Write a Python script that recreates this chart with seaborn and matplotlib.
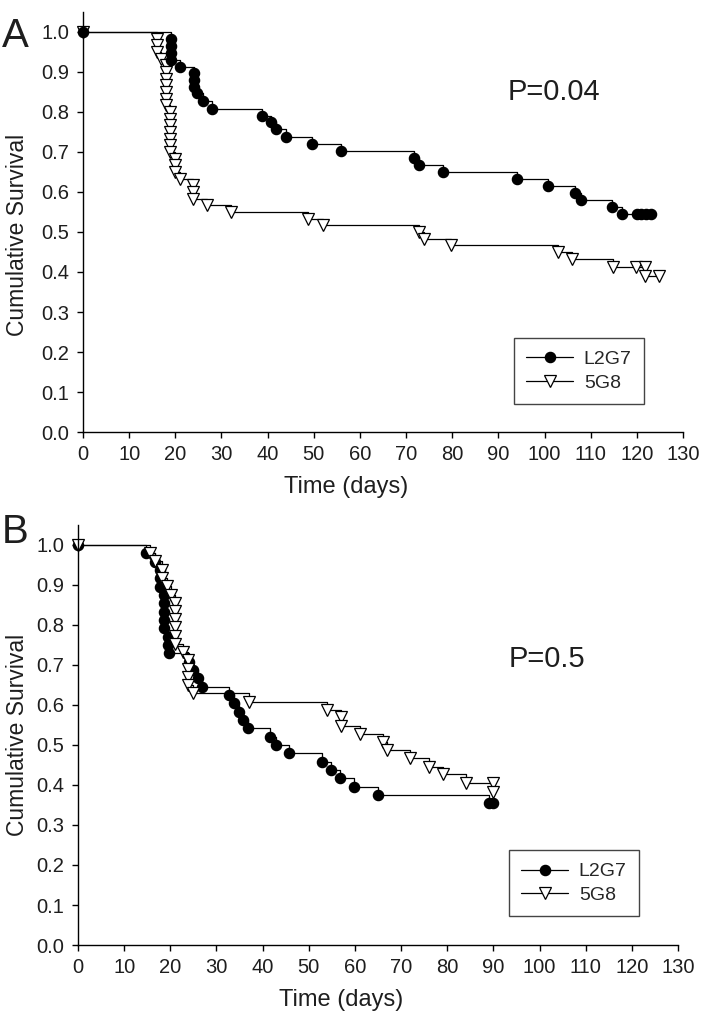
import matplotlib
matplotlib.use("Agg")
import matplotlib.pyplot as plt
import seaborn as sns
import pandas as pd

###############################################################
#----------------------------Data-----------------------------#
###############################################################
# Panel A
a_l2g7_days = [0, 19, 19, 19, 19, 21, 24, 24, 24, 24.6, 26, 28, 38.7, 40.7, 41.8, 44,
               49.7, 55.8, 71.8, 72.8, 78, 94, 100.7, 106.7, 107.8, 114.7, 116.7,
               120, 121, 122, 123]
a_l2g7_surv = [1.0, 0.983, 0.966, 0.948, 0.931, 0.913, 0.897, 0.880, 0.863, 0.847, 0.827,
               0.808, 0.791, 0.774, 0.757, 0.738, 0.720, 0.703, 0.686, 0.668, 0.650,
               0.633, 0.615, 0.597, 0.580, 0.563, 0.545, 0.545, 0.545, 0.545, 0.545]
a_5g8_days = [0, 16, 16, 16, 17, 18, 18, 18, 18, 18, 18, 18, 18.9, 18.9, 18.9, 18.9,
              18.9, 18.9, 18.9, 19.9, 19.9, 19.9, 21, 23.9, 23.9, 23.9, 26.8, 32,
              48.8, 51.9, 72.8, 73.9, 79.8, 102.9, 105.9, 114.8, 119.8, 121.8, 121.8, 124.9]
a_5g8_surv = [1.0, 0.983, 0.967, 0.950, 0.933, 0.917, 0.900, 0.883, 0.867, 0.850, 0.833,
              0.817, 0.800, 0.783, 0.767, 0.750, 0.733, 0.717, 0.700, 0.683, 0.667,
              0.650, 0.633, 0.617, 0.600, 0.583, 0.567, 0.550, 0.533, 0.517, 0.500,
              0.483, 0.467, 0.450, 0.433, 0.413, 0.413, 0.413, 0.390, 0.390]

# Panel B
b_l2g7_days = [0, 14.7, 16.7, 17.8, 17.8, 17.8, 18.6, 18.6, 18.6, 18.6, 18.6, 19.6, 19.6,
               19.8, 24, 25, 25.9, 26.8, 32.8, 33.8, 34.9, 35.8, 36.8, 41.7, 42.8, 45.8,
               52.8, 54.8, 56.8, 59.7, 64.9, 89, 90]
b_l2g7_surv = [1.0, 0.979, 0.958, 0.938, 0.917, 0.896, 0.875, 0.854, 0.833, 0.813, 0.792,
               0.771, 0.750, 0.729, 0.708, 0.688, 0.667, 0.646, 0.625, 0.604, 0.583,
               0.563, 0.542, 0.521, 0.500, 0.479, 0.458, 0.438, 0.417, 0.396, 0.375,
               0.354, 0.354]
b_5g8_days = [0, 15.6, 16.7, 18.1, 18.1, 19.2, 20.2, 21, 21, 21, 21, 21, 21, 22.8, 23.9,
              23.9, 23.9, 23.9, 25, 37, 54, 57, 57, 61, 66, 67, 72, 76, 79, 84, 90, 90]
b_5g8_surv = [1.0, 0.979, 0.959, 0.938, 0.918, 0.897, 0.876, 0.856, 0.835, 0.815, 0.794,
              0.773, 0.753, 0.732, 0.712, 0.691, 0.670, 0.650, 0.629, 0.608, 0.588,
              0.569, 0.548, 0.527, 0.508, 0.488, 0.467, 0.446, 0.428, 0.406, 0.406, 0.383]

group_names = ["L2G7", "5G8"]
p_values = ["P=0.04", "P=0.5"]
panel_letters = ["A", "B"]
x_ticks = list(range(0, 131, 10))
y_ticks = [i / 10 for i in range(11)]

###############################################################
#---------------------------Style-----------------------------#
###############################################################
sns.set_style("ticks")
plt.rcParams["font.family"] = ["Liberation Sans", "DejaVu Sans"]
TXT = "#1e1e1e"

fig = plt.figure(figsize=(7.06, 10.21), dpi=100)
ax_a = fig.add_axes([83 / 706, 1 - 432 / 1021, 600 / 706, 420 / 1021])
ax_b = fig.add_axes([78 / 706, 1 - 945 / 1021, 600 / 706, 420 / 1021])


def km_curve(ax, days, surv, marker, filled):
    df = pd.DataFrame({"days": days, "surv": surv})
    sns.lineplot(data=df, x="days", y="surv", ax=ax, estimator=None, sort=False,
                 drawstyle="steps-post", color="black", linewidth=0.9,
                 marker=marker, markersize=7.4 if filled else 8.0,
                 markerfacecolor="black" if filled else "white",
                 markeredgecolor="black", markeredgewidth=0.9,
                 clip_on=False, legend=False)
    return ax.lines[-1]


def style_panel(ax, ptxt, ptxt_x, ptxt_y, ylab_x, ylab_y):
    ax.set_xlim(0, 130)
    ax.set_ylim(0, 1.05)
    ax.set_xticks(x_ticks)
    ax.set_yticks(y_ticks)
    ax.set_yticklabels([f"{v:.1f}" for v in y_ticks])
    sns.despine(ax=ax)
    for s in ["left", "bottom"]:
        ax.spines[s].set_linewidth(1.0)
        ax.spines[s].set_color("black")
    ax.tick_params(direction="out", length=4, width=1.0, colors="black",
                   labelsize=14.5, labelcolor=TXT)
    ax.tick_params(axis="y", pad=6)
    ax.tick_params(axis="x", pad=5)
    ax.set_xlabel("Time (days)", fontsize=17, color=TXT)
    ax.set_ylabel("Cumulative Survival", fontsize=16.5, color=TXT)
    ax.xaxis.set_label_coords(0.438, -0.105)
    ax.yaxis.set_label_coords(ylab_x, ylab_y)
    ax.text(ptxt_x, ptxt_y, ptxt, transform=ax.transAxes, fontsize=21, color=TXT,
            ha="left", va="baseline")


def add_legend(ax, handles, anchor):
    ax.legend(handles, group_names, loc="upper left", bbox_to_anchor=anchor,
              frameon=True, fancybox=False, edgecolor="#444444", framealpha=1,
              fontsize=14, handlelength=2.4, handletextpad=0.55, borderpad=0.65,
              labelspacing=0.3, borderaxespad=0)


###############################################################
#---------------------------Panel A---------------------------#
###############################################################
h_5g8 = km_curve(ax_a, a_5g8_days, a_5g8_surv, "v", False)
h_l2g7 = km_curve(ax_a, a_l2g7_days, a_l2g7_surv, "o", True)
style_panel(ax_a, p_values[0], 0.708, (432 - 100) / 420, (29 - 83) / 600, 0.47)
add_legend(ax_a, [h_l2g7, h_5g8], (0.718, 0.224))

###############################################################
#---------------------------Panel B---------------------------#
###############################################################
g_l2g7 = km_curve(ax_b, b_l2g7_days, b_l2g7_surv, "o", True)
g_5g8 = km_curve(ax_b, b_5g8_days, b_5g8_surv, "v", False)
style_panel(ax_b, p_values[1], 0.718, (945 - 667) / 420, (29 - 78) / 600, 0.5)
add_legend(ax_b, [g_l2g7, g_5g8], (0.718, 0.226))

fig.text(2 / 706, 1 - 47 / 1021, panel_letters[0], fontsize=29, color=TXT, va="baseline")
fig.text(2 / 706, 1 - 543 / 1021, panel_letters[1], fontsize=29, color=TXT, va="baseline")

fig.savefig("out.png", dpi=100)
